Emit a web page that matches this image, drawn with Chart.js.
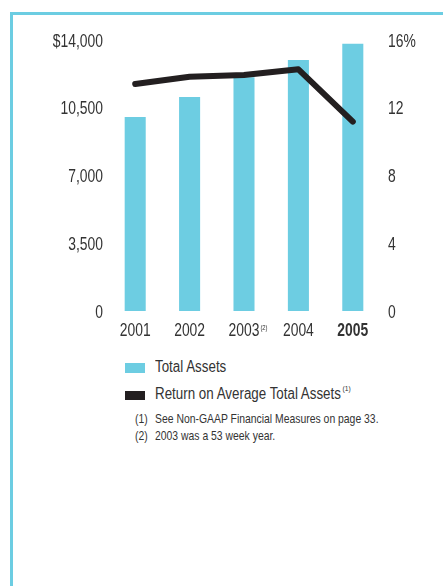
<!DOCTYPE html>
<html>
<head>
    <title>Total Assets</title>
    <script src="https://cdn.jsdelivr.net/npm/chart.js"></script>
    <style>
        body { margin:0; background:#fff; width:443px; height:586px; position:relative; overflow:hidden;
               font-family:"Liberation Sans",Arial,sans-serif; color:#333; }
        .frame { position:absolute; left:10px; top:12px; right:0; bottom:0;
                 border-left:3px solid #6ccde2; border-top:3px solid #6ccde2; }
        #wrap { position:absolute; left:0; top:0; width:443px; height:345px; }
        .sw { position:absolute; left:125px; width:20px; }
        .tx { position:absolute; left:155px; font-size:16px; line-height:16px; white-space:nowrap;
              transform:scaleX(0.835); transform-origin:0 0; }
        .tx sup { font-size:8px; line-height:8px; vertical-align:top; position:relative; top:-1px; margin-left:2px; }
        .note { position:absolute; font-size:13px; line-height:14px; white-space:nowrap;
                transform:scaleX(0.8); transform-origin:0 0; }
    </style>
</head>
<body>
<div class="frame"></div>
<div id="wrap"><canvas id="assets-chart" width="443" height="345"></canvas></div>
<div id="legend"></div>
<div class="note" style="left:135px;top:412px">(1)</div>
<div class="note" style="left:155px;top:412px">See Non-GAAP Financial Measures on page 33.</div>
<div class="note" style="left:135px;top:429px">(2)</div>
<div class="note" style="left:155px;top:429px">2003 was a 53 week year.</div>
<script>
const years = ['2001','2002','2003','2004','2005'];
const totalAssets = [10020, 11050, 12080, 12970, 13800];
const returnOnAssets = [13.4, 13.83, 13.93, 14.27, 11.18];
const leftTicks = [0, 3500, 7000, 10500, 14000];
const rightTicks = [0, 4, 8, 12, 16];
const footnoteYear = '2003';

const FONT = '"Liberation Sans",Arial,sans-serif';
const INK = '#333';
const SQUEEZE = 0.73;   // the original type is a condensed face

function squeezedText(c, txt, x, y, align, font) {
    c.save();
    c.font = font;
    c.textAlign = align;
    c.textBaseline = 'alphabetic';
    c.translate(x, y);
    c.scale(SQUEEZE, 1);
    c.fillText(txt, 0, 0);
    const w = c.measureText(txt).width * SQUEEZE;
    c.restore();
    return w;
}

// tick labels drawn narrow, positions taken from the scales
const tickPlugin = {
    id:'narrowTicks',
    afterDraw(chart){
        const c = chart.ctx, {x, y, y1} = chart.scales;
        c.fillStyle = INK;
        leftTicks.forEach(v=>{
            const t = v===14000 ? '$14,000' : v.toLocaleString('en-US');
            squeezedText(c, t, x.left - 5, y.getPixelForValue(v) + 6.5, 'right', `19px ${FONT}`);
        });
        rightTicks.forEach(v=>{
            const t = v===16 ? '16%' : String(v);
            squeezedText(c, t, x.right + 8, y1.getPixelForValue(v) + 6.5, 'left', `19px ${FONT}`);
        });
        years.forEach((yr, i)=>{
            const px = x.getPixelForValue(i);
            const bold = i === years.length - 1;
            const w = squeezedText(c, yr, px, x.top + 25, 'center', `${bold ? 'bold ' : ''}19px ${FONT}`);
            if (yr === footnoteYear) squeezedText(c, '(2)', px + w/2 + 1, x.top + 19, 'left', `8px ${FONT}`);
        });
    }
};

const chart = new Chart(document.getElementById('assets-chart'), {
    data:{
        labels:years,
        datasets:[
            {type:'line', label:'Return on Average Total Assets', data:returnOnAssets, yAxisID:'y1',
             borderColor:'#231f20', backgroundColor:'#231f20', borderWidth:6, pointRadius:0,
             borderCapStyle:'round', borderJoinStyle:'round', tension:0, order:0},
            {type:'bar', label:'Total Assets', data:totalAssets, yAxisID:'y',
             backgroundColor:'#6dcde2', categoryPercentage:1, barPercentage:0.387, order:1}
        ]
    },
    options:{
        responsive:false, animation:false, devicePixelRatio:1,
        layout:{padding:{top:40, bottom:0, left:0, right:0}},
        plugins:{legend:{display:false}, tooltip:{enabled:false}},
        scales:{
            x:{
                grid:{display:false, drawTicks:false}, border:{display:false},
                ticks:{display:false},
                afterFit:s=>{ s.height = 34; }
            },
            y:{
                position:'left', min:0, max:14000,
                grid:{display:false, drawTicks:false}, border:{display:false},
                ticks:{display:false},
                afterFit:s=>{ s.width = 108; }
            },
            y1:{
                position:'right', min:0, max:16,
                grid:{display:false, drawTicks:false}, border:{display:false},
                ticks:{display:false},
                afterFit:s=>{ s.width = 63; }
            }
        }
    },
    plugins:[tickPlugin]
});

// legend built from the datasets
const legendEl = document.getElementById('legend');
[[1, 363, 10, 359, ''], [0, 391, 9, 386, '(1)']].forEach(([di, swTop, swH, txTop, mark])=>{
    const ds = chart.data.datasets[di];
    const sw = document.createElement('div');
    sw.className = 'sw';
    sw.style.cssText = `top:${swTop}px;height:${swH}px;background:${ds.backgroundColor}`;
    const tx = document.createElement('div');
    tx.className = 'tx';
    tx.style.top = txTop + 'px';
    tx.innerHTML = ds.label + (mark ? `<sup>${mark}</sup>` : '');
    legendEl.appendChild(sw);
    legendEl.appendChild(tx);
});
</script>
</body>
</html>
